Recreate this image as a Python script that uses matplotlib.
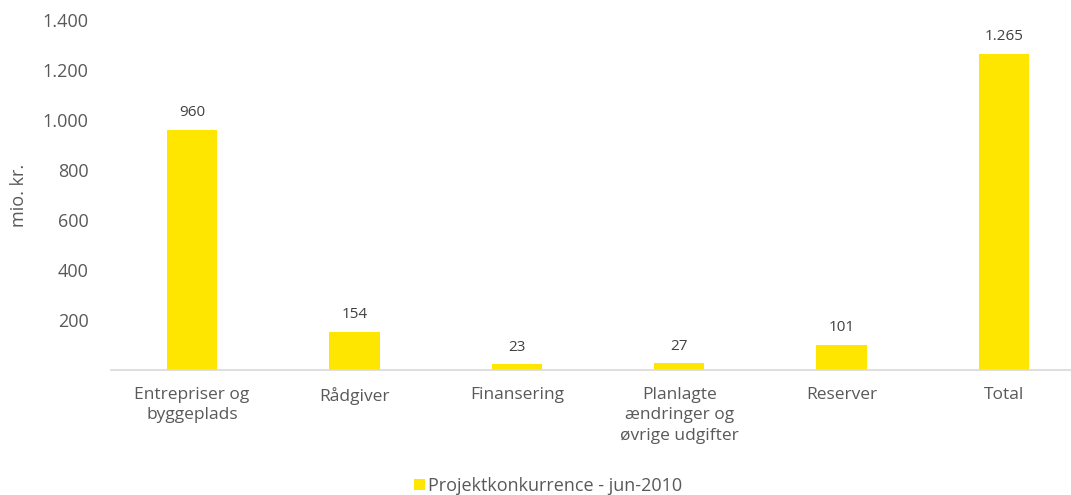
import numpy as np
import matplotlib.pyplot as plt

categories = ["Entrepriser og\nbyggeplads", "Rådgiver", "Finansering",
              "Planlagte\nændringer og\nøvrige udgifter", "Reserver", "Total"]
values = [960, 154, 23, 27, 101, 1265]
value_labels = ["960", "154", "23", "27", "101", "1.265"]
yticks = [200, 400, 600, 800, 1000, 1200, 1400]
ytick_labels = ["200", "400", "600", "800", "1.000", "1.200", "1.400"]
series_name = "Projektkonkurrence - jun-2010"

plt.rcParams['font.family'] = ['Open Sans', 'DejaVu Sans']
text_color = "#595959"
bar_color = "#ffe600"

fig = plt.figure(figsize=(10.71, 4.95), dpi=100)
# the category slots run slightly past the right edge of the picture
ax = fig.add_axes([110.8 / 1071, 1 - 370 / 495, 974.4 / 1071, 350 / 495])

x = np.arange(len(categories))
bars = ax.bar(x, values, width=0.31, color=bar_color, label=series_name, zorder=2)

for rect, lab in zip(bars, value_labels):
    ax.annotate(lab, (rect.get_x() + rect.get_width() / 2, rect.get_height()),
                xytext=(0, 7), textcoords="offset points", ha="center", va="bottom",
                fontsize=11, color="#404040")

ax.set_xlim(-0.5, len(categories) - 0.5)
ax.set_ylim(0, 1400)
ax.set_xticks(x)
ax.set_xticklabels(categories, fontsize=12.5, color=text_color, linespacing=1.4)
ax.set_yticks(yticks)
ax.set_yticklabels(ytick_labels, fontsize=13, color=text_color)
ax.tick_params(axis="both", length=0)
ax.tick_params(axis="y", pad=16)
ax.tick_params(axis="x", pad=12)
ax.set_ylabel("mio. kr.", fontsize=13, color=text_color)
ax.yaxis.set_label_coords(-0.085, 0.5)

for side in ["top", "right", "left"]:
    ax.spines[side].set_visible(False)
ax.spines["bottom"].set_color("#d9d9d9")
ax.spines["bottom"].set_linewidth(1.2)

fig.legend(handles=[bars], labels=[series_name], loc="center",
           bbox_to_anchor=(548 / 1071, 1 - 486 / 495), frameon=False,
           fontsize=13, labelcolor=text_color, handlelength=0.6, handleheight=0.6,
           handletextpad=0.2)

fig.savefig("out.png", dpi=100)
